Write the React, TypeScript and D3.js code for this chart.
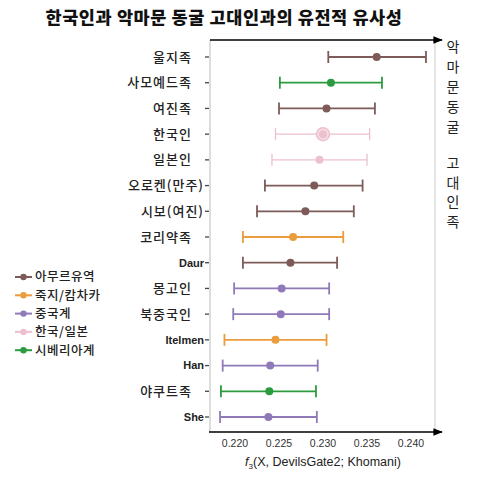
import React, { useEffect, useRef } from "react";
import * as d3 from "d3";

// populations, top to bottom
const names = [
  "울지족", "사모예드족", "여진족", "한국인", "일본인", "오로켄(만주)", "시보(여진)",
  "코리약족", "Daur", "몽고인", "북중국인", "Itelmen", "Han", "야쿠트족", "She",
];
const centers = [0.2361, 0.2309, 0.2304, 0.2300, 0.2296, 0.2290, 0.2280, 0.2266, 0.2263, 0.2253, 0.2252, 0.2246, 0.2240, 0.2239, 0.2238];
const lows = [0.2306, 0.2251, 0.2250, 0.2246, 0.2242, 0.2234, 0.2225, 0.2209, 0.2209, 0.2199, 0.2198, 0.2188, 0.2186, 0.2184, 0.2183];
const highs = [0.2417, 0.2367, 0.2359, 0.2353, 0.2350, 0.2345, 0.2335, 0.2323, 0.2316, 0.2307, 0.2307, 0.2304, 0.2294, 0.2292, 0.2293];
const groups = [0, 4, 0, 3, 3, 0, 0, 1, 0, 2, 2, 1, 2, 4, 2];

const groupNames = ["아무르유역", "죽지/캄차카", "중국계", "한국/일본", "시베리아계"];
const groupColors = ["#7d5b59", "#eb9c3c", "#9079b9", "#ecc0cd", "#2b9b3e"];

const xTicks = [0.22, 0.225, 0.23, 0.235, 0.24];
const sideTop = ["악", "마", "문", "동", "굴"];
const sideBottom = ["고", "대", "인", "족"];

const App = () => {
  const ref = useRef<SVGSVGElement>(null);

  useEffect(() => {
    const svg = d3.select(ref.current);
    svg.selectAll("*").remove();

    const x = d3.scaleLinear().domain([0.22, 0.24]).range([235, 411]);
    const y = d3.scalePoint().domain(names).range([57, 417]);
    const kr = "'Noto Sans CJK KR', sans-serif";
    const isLatin = (d: string) => /^[A-Za-z]/.test(d);

    const defs = svg.append("defs");
    defs.append("marker")
      .attr("id", "arrow")
      .attr("viewBox", "0 0 10 10")
      .attr("refX", 9).attr("refY", 5)
      .attr("markerWidth", 6).attr("markerHeight", 6)
      .attr("orient", "auto")
      .append("path").attr("d", "M0,1L10,5L0,9Z").attr("fill", "#000");

    // title
    svg.append("text")
      .attr("x", 224).attr("y", 24)
      .attr("text-anchor", "middle")
      .attr("font-family", kr).attr("font-weight", 900).attr("font-size", 17.5)
      .attr("letter-spacing", 0.6)
      .attr("fill", "#111")
      .text("한국인과 악마문 동굴 고대인과의 유전적 유사성");

    // frame
    svg.append("line").attr("x1", 210).attr("x2", 210).attr("y1", 40).attr("y2", 432)
      .attr("stroke", "#bbb").attr("stroke-width", 1);
    svg.append("line").attr("x1", 435).attr("x2", 435).attr("y1", 40).attr("y2", 432)
      .attr("stroke", "#ccc").attr("stroke-width", 1);
    svg.append("line").attr("x1", 210).attr("x2", 442).attr("y1", 40).attr("y2", 40)
      .attr("stroke", "#000").attr("stroke-width", 1.6).attr("marker-end", "url(#arrow)");
    svg.append("line").attr("x1", 209).attr("x2", 442).attr("y1", 432).attr("y2", 432)
      .attr("stroke", "#000").attr("stroke-width", 1.6).attr("marker-end", "url(#arrow)");

    // x tick labels
    svg.append("g").selectAll("text").data(xTicks).join("text")
      .attr("x", d => x(d)).attr("y", 447)
      .attr("text-anchor", "middle")
      .attr("font-family", "'Liberation Sans', Arial, sans-serif").attr("font-size", 10.5)
      .attr("fill", "#333")
      .text(d => d3.format(".3f")(d));

    const xl = svg.append("text").attr("x", 323).attr("y", 466).attr("text-anchor", "middle")
      .attr("font-family", "'Liberation Sans', Arial, sans-serif").attr("font-size", 12.5).attr("fill", "#222");
    xl.append("tspan").attr("font-style", "italic").text("f");
    xl.append("tspan").attr("font-size", 8).attr("dy", 3).text("3");
    xl.append("tspan").attr("dy", -3).text("(X, DevilsGate2; Khomani)");

    // y labels and ticks
    const rows = svg.append("g").selectAll("g").data(names).join("g")
      .attr("transform", d => `translate(0,${y(d)})`);
    rows.append("line").attr("x1", 205).attr("x2", 209).attr("stroke", "#444").attr("stroke-width", 1.3);
    rows.append("text")
      .attr("x", d => (isLatin(d) || d.includes("(") ? 204 : 192))
      .attr("dy", "0.35em")
      .attr("text-anchor", "end")
      .attr("font-family", d => (isLatin(d) ? "'Liberation Sans Narrow', 'Liberation Sans', Arial, sans-serif" : kr))
      .attr("font-weight", d => (isLatin(d) ? 700 : 500))
      .attr("font-size", d => (isLatin(d) ? 11 : 13))
      .attr("letter-spacing", d => (isLatin(d) ? 0 : 1))
      .attr("fill", "#222")
      .text(d => d);

    // error bars
    const bars = svg.append("g").selectAll("g").data(names).join("g")
      .attr("transform", d => `translate(0,${y(d)})`)
      .attr("stroke", (d, i) => groupColors[groups[i]])
      .attr("stroke-width", (d, i) => (groups[i] === 3 ? 1.3 : 1.8));
    bars.append("line").attr("x1", (d, i) => x(lows[i])).attr("x2", (d, i) => x(highs[i]));
    bars.append("line").attr("x1", (d, i) => x(lows[i])).attr("x2", (d, i) => x(lows[i])).attr("y1", -6).attr("y2", 6);
    bars.append("line").attr("x1", (d, i) => x(highs[i])).attr("x2", (d, i) => x(highs[i])).attr("y1", -6).attr("y2", 6);
    bars.filter((d) => d === "한국인").append("circle")
      .attr("cx", (d) => x(centers[names.indexOf(d)])).attr("r", 6.5)
      .attr("fill", "#f6dde4").attr("stroke-width", 1.5);
    bars.append("circle")
      .attr("cx", (d) => x(centers[names.indexOf(d)])).attr("r", 4)
      .attr("fill", (d) => groupColors[groups[names.indexOf(d)]]).attr("stroke", "none");

    // legend
    const leg = svg.append("g").selectAll("g").data(groupNames).join("g")
      .attr("transform", (d, i) => `translate(0,${277 + i * 18.3})`);
    leg.append("line").attr("x1", 15).attr("x2", 32).attr("stroke", (d, i) => groupColors[i]).attr("stroke-width", 2);
    leg.append("circle").attr("cx", 23.5).attr("r", 3.2).attr("fill", (d, i) => groupColors[i]);
    leg.append("text").attr("x", 35).attr("dy", "0.35em")
      .attr("font-family", kr).attr("font-weight", 500).attr("font-size", 12.5).attr("letter-spacing", 0.5)
      .attr("fill", "#222").text(d => d);

    // side caption
    const side = svg.append("g").attr("font-family", kr).attr("font-size", 14).attr("fill", "#222")
      .attr("text-anchor", "middle");
    side.selectAll("text.a").data(sideTop).join("text").attr("class", "a")
      .attr("x", 453).attr("y", (d, i) => 52 + i * 20).text(d => d);
    side.selectAll("text.b").data(sideBottom).join("text").attr("class", "b")
      .attr("x", 453).attr("y", (d, i) => 168 + i * 19.5).text(d => d);
  }, []);

  return (
    <svg ref={ref} width={478} height={478}
      style={{ position: "absolute", left: 0, top: 0, background: "#fff" }} />
  );
};

export default App;
